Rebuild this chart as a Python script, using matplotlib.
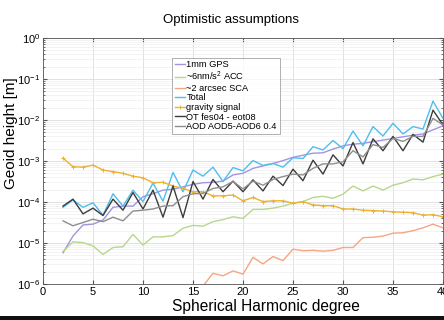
import numpy as np
import matplotlib
matplotlib.use("Agg")
import matplotlib.pyplot as plt
from matplotlib.patches import Rectangle

plt.rcParams['font.family'] = ['Liberation Sans', 'DejaVu Sans']
plt.rcParams['mathtext.fontset'] = 'custom'
plt.rcParams['mathtext.rm'] = 'Liberation Sans'
plt.rcParams['mathtext.it'] = 'Liberation Sans:italic'
plt.rcParams['mathtext.bf'] = 'Liberation Sans:bold'

degree = list(range(2, 41))

# log10 of geoid height [m]
gps_log = [-5.24, -4.83, -4.56, -4.54, -4.44, -4.13, -4.10, -4.10, -3.87, -3.80,
           -3.71, -3.69, -3.63, -3.57, -3.53, -3.52, -3.49, -3.34, -3.30, -3.18,
           -3.12, -3.06, -2.99, -2.91, -2.86, -2.81, -2.80, -2.71, -2.63, -2.59,
           -2.57, -2.53, -2.49, -2.45, -2.41, -2.37, -2.34, -2.24, -2.14]
acc_log = [-5.21, -4.97, -4.99, -5.07, -5.28, -5.11, -5.09, -4.79, -5.05, -4.85,
           -4.85, -4.82, -4.64, -4.57, -4.59, -4.48, -4.43, -4.36, -4.40, -4.18,
           -4.18, -4.15, -4.10, -4.03, -3.99, -3.89, -3.86, -3.91, -3.81, -3.61,
           -3.73, -3.61, -3.71, -3.59, -3.53, -3.44, -3.46, -3.38, -3.32]
sca_log = [-7.6, -7.4, -7.3, -7.2, -7.3, -7.0, -7.0, -6.8, -6.9, -6.7,
           -6.7, -6.6, -6.45, -6.35, -6.05, -5.74, -5.80, -5.68, -5.76, -5.35,
           -5.51, -5.33, -5.43, -5.15, -5.19, -5.18, -5.20, -5.18, -5.11, -5.11,
           -4.87, -4.86, -4.83, -4.76, -4.75, -4.70, -4.63, -4.54, -4.63]
total_log = [-4.13, -3.95, -4.13, -4.02, -4.32, -3.80, -4.10, -3.71, -3.99, -3.54,
             -3.98, -3.28, -3.75, -3.22, -3.37, -3.15, -3.50, -3.16, -3.24, -2.99,
             -3.11, -3.06, -3.15, -2.92, -2.94, -2.65, -2.73, -2.50, -2.70, -2.27,
             -2.63, -2.16, -2.39, -2.08, -2.34, -2.16, -2.22, -1.54, -1.96]
gravity_log = [-2.93, -3.14, -3.15, -3.10, -3.22, -3.26, -3.30, -3.37, -3.41, -3.53,
               -3.52, -3.61, -3.67, -3.75, -3.75, -3.85, -3.85, -3.83, -3.97, -3.89,
               -3.99, -3.97, -3.97, -4.03, -3.99, -4.07, -4.09, -4.09, -4.17, -4.17,
               -4.20, -4.21, -4.22, -4.24, -4.25, -4.26, -4.32, -4.31, -4.36]
ot_log = [-4.10, -3.93, -4.29, -4.15, -4.33, -3.93, -4.20, -3.77, -4.17, -3.71,
          -4.37, -3.61, -4.38, -3.50, -3.93, -3.45, -3.75, -3.49, -3.75, -3.46,
          -3.73, -3.37, -3.60, -3.20, -3.48, -2.98, -3.32, -2.85, -3.12, -2.55,
          -3.07, -2.46, -2.75, -2.40, -2.75, -2.35, -2.54, -1.76, -2.12]
aod_log = [-4.46, -4.58, -4.50, -4.42, -4.48, -4.37, -4.46, -4.22, -4.20, -4.17,
           -4.10, -4.09, -3.87, -3.80, -3.79, -3.67, -3.63, -3.50, -3.68, -3.49,
           -3.59, -3.45, -3.38, -3.32, -3.34, -3.18, -3.07, -3.07, -3.02, -2.75,
           -2.90, -2.60, -2.67, -2.45, -2.52, -2.40, -2.40, -1.96, -2.12]

labels = ['1mm GPS', r'~6nm/s$^2$ ACC', '~2 arcsec SCA', 'Total',
          'gravity signal', 'OT fes04 - eot08', 'AOD AOD5-AOD6 0.4']
colors = ['#a394e0', '#b7d78d', '#f6a585', '#4dbeee', '#edb22e', '#3c3c3c', '#8e8e8e']
series = [gps_log, acc_log, sca_log, total_log, gravity_log, ot_log, aod_log]

fig = plt.figure(figsize=(4.44, 3.20), dpi=100)
ax = fig.add_axes([43/444, 1-284/320, 400/444, 246/320])

for lab, col, s in zip(labels, colors, series):
    vals = 10.0 ** np.array(s)
    if lab == 'gravity signal':
        ax.plot(degree, vals, color=col, lw=1.0, marker='+', ms=3.5, mew=0.7, label=lab)
    else:
        ax.plot(degree, vals, color=col, lw=1.0, label=lab)

ax.set_yscale('log')
ax.set_xlim(0, 40)
ax.set_ylim(1e-6, 1)
ax.set_xticks(range(0, 41, 5))
ax.set_yticks([1e-6, 1e-5, 1e-4, 1e-3, 1e-2, 1e-1, 1])
ax.grid(True, which='major', color='#dcdcdc', lw=0.6)
ax.grid(True, which='minor', axis='y', color='#efefef', lw=0.5)
ax.tick_params(which='both', direction='in', top=True, right=True, labelsize=8,
               color='#555555', pad=2)
ax.tick_params(which='major', length=3)
ax.tick_params(which='minor', length=1.5)
for sp in ax.spines.values():
    sp.set_color('#555555')
    sp.set_linewidth(0.6)

ax.set_title('Optimistic assumptions', fontsize=9.5, pad=11, x=0.47)
ax.set_xlabel('Spherical Harmonic degree', fontsize=11.2)
ax.xaxis.set_label_coords((266 - 43) / 400, -0.062)
ax.set_ylabel('Geoid height [m]', fontsize=11)
ax.yaxis.set_label_coords(-0.063, (284 - 133) / 246)

leg = ax.legend(loc='upper left', bbox_to_anchor=(0.3225, 0.92), fontsize=6.7,
                handlelength=1.05, handletextpad=0.2, borderpad=0.3,
                labelspacing=0.06, frameon=True, fancybox=False, borderaxespad=0)
leg.get_frame().set_edgecolor('#8c8c8c')
leg.get_frame().set_linewidth(0.6)

fig.patches.append(Rectangle((0, 0), 1, 4/320, transform=fig.transFigure,
                             facecolor='#111111', edgecolor='none'))

fig.savefig('out.png', dpi=100)
